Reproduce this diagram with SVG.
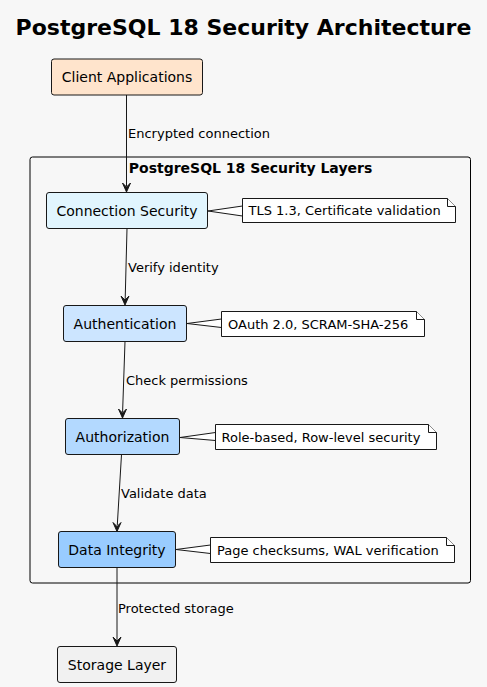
<svg xmlns="http://www.w3.org/2000/svg" width="487" height="687" viewBox="0 0 487 687">
<style>
.node{stroke:#181818;stroke-width:1}
.lbl{font-family:"DejaVu Sans",sans-serif;font-size:14px;fill:#000;text-anchor:middle}
.el{font-family:"DejaVu Sans",sans-serif;font-size:13px;fill:#000}
.nt{font-family:"DejaVu Sans",sans-serif;font-size:13px;fill:#000}
.note{fill:#FFFFFF;stroke:#181818;stroke-width:1}
.edge{fill:none;stroke:#181818;stroke-width:1}
.head{fill:#181818;stroke:#181818;stroke-width:1}
</style>
<rect width="487" height="687" fill="#F7F7F7"/>
<text x="243.5" y="35" font-family="DejaVu Sans,sans-serif" font-size="22" font-weight="bold" text-anchor="middle">PostgreSQL 18 Security Architecture</text>

<g id="cluster">
<rect x="30" y="157" width="440.5" height="426" rx="2.5" fill="none" stroke="#000" stroke-width="1"/>
<text x="250.5" y="173" font-family="DejaVu Sans,sans-serif" font-size="14" font-weight="bold" text-anchor="middle">PostgreSQL 18 Security Layers</text>
</g>

<g id="edges">
<path class="edge" d="M126.5,95 L126.5,186"/>
<polygon class="head" points="122.5,183 126.5,192 130.5,183 126.5,187"/>
<text class="el" x="128" y="138">Encrypted connection</text>
<path class="edge" d="M127,228.5 L125.2,299"/>
<polygon class="head" points="121,296 125,305 129,296 125,300"/>
<text class="el" x="128" y="272">Verify identity</text>
<path class="edge" d="M125,341.5 L122.6,412"/>
<polygon class="head" points="118.5,409 122.5,418 126.5,409 122.5,413"/>
<text class="el" x="126" y="385">Check permissions</text>
<path class="edge" d="M121.5,454.5 L117.3,525"/>
<polygon class="head" points="113,522.5 117,531.5 121,522.5 117,526.5"/>
<text class="el" x="121" y="498">Validate data</text>
<path class="edge" d="M117,567.5 L117,640"/>
<polygon class="head" points="113,637 117,646 121,637 117,641"/>
<text class="el" x="118" y="612.5">Protected storage</text>
</g>

<g id="client">
<rect class="node" x="51.5" y="59" width="151" height="36" rx="2.5" fill="#FFE4CC"/>
<text class="lbl" x="127" y="82">Client Applications</text>
</g>

<g id="conn">
<rect class="node" x="46.5" y="192.5" width="161" height="36" rx="2.5" fill="#E1F5FE"/>
<text class="lbl" x="127" y="215.5">Connection Security</text>
</g>
<g id="note1">
<polygon class="note" points="208,211 242.5,206 242.5,216"/>
<path class="note" d="M242.5,198.5 L447.5,198.5 L455.5,206.5 L455.5,222.5 L242.5,222.5 Z"/>
<path class="note" d="M447.5,198.5 L447.5,206.5 L455.5,206.5" fill="none"/>
<text class="nt" x="248.5" y="215">TLS 1.3, Certificate validation</text>
</g>

<g id="authn">
<rect class="node" x="63.5" y="305.5" width="123" height="36" rx="2.5" fill="#CCE5FF"/>
<text class="lbl" x="125" y="328.5">Authentication</text>
</g>
<g id="note2">
<polygon class="note" points="187,323.5 221.5,319 221.5,327.5"/>
<path class="note" d="M221.5,311.5 L416.5,311.5 L424.5,319.5 L424.5,336.5 L221.5,336.5 Z"/>
<path class="note" d="M416.5,311.5 L416.5,319.5 L424.5,319.5" fill="none"/>
<text class="nt" x="228" y="329">OAuth 2.0, SCRAM-SHA-256</text>
</g>

<g id="authz">
<rect class="node" x="65.5" y="418.5" width="114" height="36" rx="2.5" fill="#B3D9FF"/>
<text class="lbl" x="122.5" y="441.5">Authorization</text>
</g>
<g id="note3">
<polygon class="note" points="180,437.5 215.5,432.5 215.5,440.5"/>
<path class="note" d="M215.5,424.5 L428.5,424.5 L436.5,432.5 L436.5,449.5 L215.5,449.5 Z"/>
<path class="note" d="M428.5,424.5 L428.5,432.5 L436.5,432.5" fill="none"/>
<text class="nt" x="221.5" y="442">Role-based, Row-level security</text>
</g>

<g id="integrity">
<rect class="node" x="58.5" y="531.5" width="117" height="36" rx="2.5" fill="#99CCFF"/>
<text class="lbl" x="117" y="554.5">Data Integrity</text>
</g>
<g id="note4">
<polygon class="note" points="176,549.5 210.5,545 210.5,553.5"/>
<path class="note" d="M210.5,537.5 L446.5,537.5 L454.5,545.5 L454.5,562.5 L210.5,562.5 Z"/>
<path class="note" d="M446.5,537.5 L446.5,545.5 L454.5,545.5" fill="none"/>
<text class="nt" x="217" y="555">Page checksums, WAL verification</text>
</g>

<g id="storage">
<rect class="node" x="57.5" y="646.5" width="119" height="36" rx="2.5" fill="#F1F1F1"/>
<text class="lbl" x="117" y="669.5">Storage Layer</text>
</g>
</svg>
